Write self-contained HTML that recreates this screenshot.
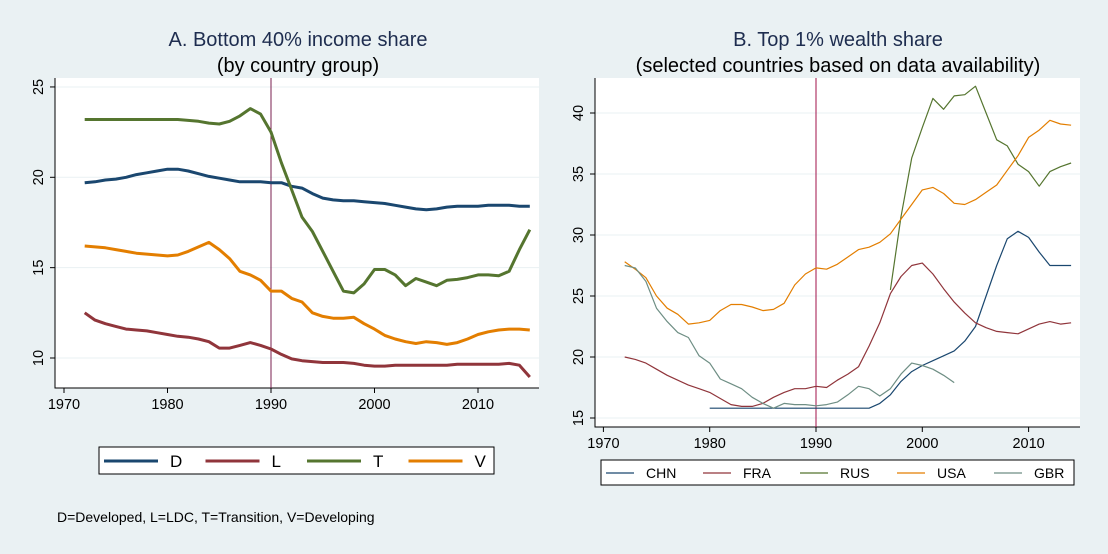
<!DOCTYPE html>
<html><head><meta charset="utf-8"><style>
body{margin:0;background:#eaf1f3;}
svg{display:block;font-family:"Liberation Sans",Arial,sans-serif;}
</style></head><body>
<svg width="1108" height="554" viewBox="0 0 1108 554">
<rect width="1108" height="554" fill="#eaf1f3"/>
<g id="A"></g>
<g id="B"></g>
</svg>
<script>
const yearsA=[];for(let y=1972;y<=2015;y++)yearsA.push(y);
const seriesD=[19.7,19.75,19.85,19.9,20.0,20.15,20.25,20.35,20.45,20.45,20.35,20.2,20.05,19.95,19.85,19.75,19.75,19.75,19.7,19.7,19.5,19.4,19.1,18.85,18.75,18.7,18.7,18.65,18.6,18.55,18.45,18.35,18.25,18.2,18.25,18.35,18.4,18.4,18.4,18.45,18.45,18.45,18.4,18.4];
const seriesL=[12.5,12.1,11.9,11.75,11.6,11.55,11.5,11.4,11.3,11.2,11.15,11.05,10.9,10.55,10.55,10.7,10.85,10.7,10.5,10.2,9.95,9.85,9.8,9.75,9.75,9.75,9.7,9.6,9.55,9.55,9.6,9.6,9.6,9.6,9.6,9.6,9.65,9.65,9.65,9.65,9.65,9.7,9.6,8.95];
const seriesT=[23.2,23.2,23.2,23.2,23.2,23.2,23.2,23.2,23.2,23.2,23.15,23.1,23.0,22.95,23.1,23.4,23.8,23.5,22.5,20.8,19.3,17.8,17.0,15.9,14.8,13.7,13.6,14.1,14.9,14.9,14.6,14.0,14.4,14.2,14.0,14.3,14.35,14.45,14.6,14.6,14.55,14.8,16.0,17.1];
const seriesV=[16.2,16.15,16.1,16.0,15.9,15.8,15.75,15.7,15.65,15.7,15.9,16.15,16.4,16.0,15.5,14.8,14.6,14.3,13.7,13.7,13.3,13.1,12.5,12.3,12.2,12.2,12.25,11.9,11.6,11.25,11.05,10.9,10.8,10.9,10.85,10.75,10.85,11.05,11.3,11.45,11.55,11.6,11.6,11.55];
const xTicksA=[1970,1980,1990,2000,2010];
const yTicksA=[10,15,20,25];
const legendA=["D","L","T","V"];

const usaYears=[];for(let y=1972;y<=2014;y++)usaYears.push(y);
const seriesUSA=[27.8,27.2,26.5,25,24,23.5,22.7,22.8,23,23.8,24.3,24.3,24.1,23.8,23.9,24.4,25.9,26.8,27.3,27.2,27.6,28.2,28.8,29,29.4,30.1,31.3,32.5,33.7,33.9,33.4,32.6,32.5,32.9,33.5,34.1,35.3,36.5,38.0,38.6,39.4,39.1,39.0];
const seriesFRA=[20,19.8,19.5,19.0,18.5,18.1,17.7,17.4,17.1,16.6,16.1,15.95,15.95,16.2,16.7,17.1,17.4,17.4,17.6,17.5,18.1,18.6,19.2,20.9,22.8,25.2,26.6,27.5,27.7,26.8,25.6,24.5,23.6,22.8,22.4,22.1,22.0,21.9,22.3,22.7,22.9,22.7,22.8];
const gbrYears=[];for(let y=1972;y<=2003;y++)gbrYears.push(y);
const seriesGBR=[27.5,27.3,26.2,24,22.9,22,21.6,20.1,19.5,18.2,17.8,17.4,16.7,16.2,15.8,16.2,16.1,16.1,16.0,16.1,16.3,16.9,17.6,17.4,16.8,17.4,18.6,19.5,19.3,19.0,18.5,17.9];
const chnYears=[];for(let y=1980;y<=2014;y++)chnYears.push(y);
const seriesCHN=[15.8,15.8,15.8,15.8,15.8,15.8,15.8,15.8,15.8,15.8,15.8,15.8,15.8,15.8,15.8,15.8,16.2,16.9,18.0,18.8,19.3,19.7,20.1,20.5,21.3,22.5,25.0,27.5,29.7,30.3,29.8,28.6,27.5,27.5,27.5];
const rusYears=[];for(let y=1997;y<=2014;y++)rusYears.push(y);
const seriesRUS=[25.5,31.5,36.3,38.8,41.2,40.3,41.4,41.5,42.2,40,37.8,37.3,35.8,35.2,34,35.2,35.6,35.9];
const xTicksB=[1970,1980,1990,2000,2010];
const yTicksB=[15,20,25,30,35,40];
const legendB=["CHN","FRA","RUS","USA","GBR"];

const NS="http://www.w3.org/2000/svg";
function mk(parent,tag,attrs,text){const e=document.createElementNS(NS,tag);for(const k in attrs)e.setAttribute(k,attrs[k]);if(text!==undefined)e.textContent=text;parent.appendChild(e);return e;}

function panel(g,cfg){
  const {L,R,T,B,x,y}=cfg;
  const plot=mk(g,'rect',{x:L,y:T,width:R-L,height:B-T,fill:'#fff'});
  
  
  cfg.yTicks.forEach(v=>{
    const gl=mk(g,'line',{x1:L,x2:R,y1:y(v),y2:y(v),stroke:'#eaf1f3','stroke-width':1});
    
    
    mk(g,'line',{x1:L-5,x2:L,y1:y(v),y2:y(v),stroke:'#000'});
    const t=mk(g,'text',{x:0,y:0,transform:`translate(${L-12},${y(v)}) rotate(-90)`,'text-anchor':'middle','font-size':14.5},v);
    
    
  });
  cfg.xTicks.forEach(v=>{
    mk(g,'line',{x1:x(v),x2:x(v),y1:B,y2:B+5,stroke:'#000'});
    const t=mk(g,'text',{x:x(v),y:B+21,'text-anchor':'middle','font-size':14.5},v);
    
    
  });
  const ax=mk(g,'path',{d:`M${L},${T}V${B}H${R}`,fill:'none',stroke:'#000','stroke-width':1});
  
  
  const vl=mk(g,'line',{x1:x(1990),x2:x(1990),y1:T,y2:B,stroke:cfg.vcol,'stroke-width':1});
  
  
  cfg.series.forEach(s=>{
    const d=s.vals.map((v,i)=>(i?'L':'M')+x(s.years[i]).toFixed(1)+','+y(v).toFixed(1)).join('');
    const p=mk(g,'path',{d,fill:'none',stroke:s.col,'stroke-width':cfg.sw,'stroke-linejoin':'round'});
    
    
  });
}

const colD='#1a476f',colL='#90353b',colT='#55752f',colV='#e37e00',colG='#6e8e84';
const gA=document.getElementById('A');
const xA=v=>64+(v-1970)*10.35, yA=v=>358-(v-10)*18.07;
panel(gA,{L:55,R:539,T:78,B:388,x:xA,y:yA,xTicks:xTicksA,yTicks:yTicksA,vcol:'#7a1f4f',sw:3,
 series:[{name:'D',years:yearsA,vals:seriesD,col:colD},{name:'L',years:yearsA,vals:seriesL,col:colL},{name:'T',years:yearsA,vals:seriesT,col:colT},{name:'V',years:yearsA,vals:seriesV,col:colV}]});
let t=mk(gA,'text',{x:298,y:46,'text-anchor':'middle','font-size':20,fill:'#1e2d4f'},'A. Bottom 40% income share');

t=mk(gA,'text',{x:298,y:72,'text-anchor':'middle','font-size':20,fill:'#000'},'(by country group)');

let lb=mk(gA,'rect',{x:99,y:447,width:395,height:27,fill:'#fff',stroke:'#000'});

const colsA=[colD,colL,colT,colV];
legendA.forEach((n,i)=>{
  const x0=104+i*101.5;
  mk(gA,'line',{x1:x0,x2:x0+54,y1:461,y2:461,stroke:colsA[i],'stroke-width':3});
  const e=mk(gA,'text',{x:x0+66,y:467,'font-size':17},n);
  
  
});
t=mk(gA,'text',{x:57,y:522,'font-size':14},'D=Developed, L=LDC, T=Transition, V=Developing');


const gB=document.getElementById('B');
const xB=v=>816+(v-1990)*10.63, yB=v=>418-(v-15)*12.2;
panel(gB,{L:595,R:1080,T:78,B:427,x:xB,y:yB,xTicks:xTicksB,yTicks:yTicksB,vcol:'#a0124a',sw:1.2,
 series:[{name:'CHN',years:chnYears,vals:seriesCHN,col:colD},{name:'FRA',years:usaYears,vals:seriesFRA,col:colL},{name:'RUS',years:rusYears,vals:seriesRUS,col:colT},{name:'USA',years:usaYears,vals:seriesUSA,col:colV},{name:'GBR',years:gbrYears,vals:seriesGBR,col:colG}]});
t=mk(gB,'text',{x:838,y:46,'text-anchor':'middle','font-size':20,fill:'#1e2d4f'},'B. Top 1% wealth share');

t=mk(gB,'text',{x:838,y:72,'text-anchor':'middle','font-size':20,fill:'#000'},'(selected countries based on data availability)');

lb=mk(gB,'rect',{x:601,y:460,width:473,height:25,fill:'#fff',stroke:'#000'});

const colsB=[colD,colL,colT,colV,colG];
legendB.forEach((n,i)=>{
  const x0=606+i*97;
  mk(gB,'line',{x1:x0,x2:x0+28,y1:473,y2:473,stroke:colsB[i],'stroke-width':1.2});
  const e=mk(gB,'text',{x:x0+40,y:478,'font-size':14},n);
  
  
});
</script>
</body></html>
